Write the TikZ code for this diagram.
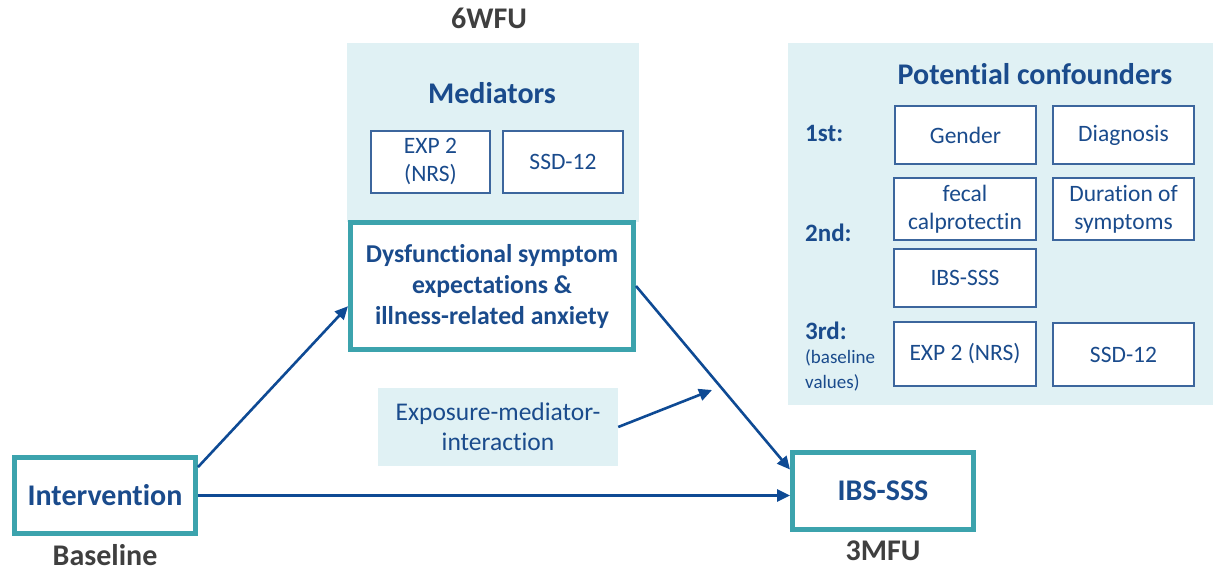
\documentclass[tikz,border=0pt]{standalone}
\usepackage{fontspec}
\setmainfont{Carlito}[Ligatures=NoCommon]
\usetikzlibrary{arrows.meta,positioning}
\definecolor{darkblue}{HTML}{1A4B8C}
\definecolor{arrowblue}{HTML}{0E4A94}
\definecolor{tealframe}{HTML}{3CA3AD}
\definecolor{panelfill}{HTML}{E0F1F4}
\definecolor{labelgray}{HTML}{3F3F3F}

\begin{document}
\begin{tikzpicture}[
    x=1pt, y=-1pt,
    panel/.style={fill=panelfill, inner sep=0pt},
    item/.style={draw=darkblue!85, line width=1.3pt, fill=white, align=center, text=darkblue,
                 inner sep=1pt, font=\fontsize{23.5}{28}\selectfont},
    keybox/.style={draw=tealframe, line width=5pt, fill=white, align=center, text=darkblue,
                 inner sep=0pt, font=\bfseries\fontsize{30}{36}\selectfont},
    heading/.style={text=darkblue, font=\bfseries\fontsize{30}{36}\selectfont},
    timept/.style={text=labelgray, inner sep=0pt, font=\bfseries\fontsize{30}{36}\selectfont},
    rank/.style={anchor=west, text=darkblue, inner sep=0pt, font=\bfseries\fontsize{25}{30}\selectfont},
    arrow/.style={-{Triangle[length=13pt,width=12pt]}, line width=2.6pt, color=arrowblue}
]
\useasboundingbox (0,0) rectangle (1214,573);

% mediator panel
\node[panel, minimum width=292pt, minimum height=179pt] (medpanel) at (493,132.5) {};
\node[heading] (medtitle) at (492,93) {Mediators};
\node[item, minimum width=119pt, minimum height=62pt] (medexp) at (430.5,162) {EXP 2\\(NRS)};
\node[item, minimum width=120pt, minimum height=62pt] (medssd) at (563,162) {SSD-12};
\node[keybox, minimum width=283pt, minimum height=127pt, font=\bfseries\fontsize{25.7}{31}\selectfont]
    (mediator) at (492,286) {Dysfunctional symptom\\expectations \&\\illness-related anxiety};
\node[timept] (sixwfu) at (489,18) {6WFU};

% confounder panel
\node[panel, minimum width=425pt, minimum height=362pt] (confpanel) at (1000.5,224) {};
\node[heading] (conftitle) at (1035,74) {Potential confounders};
\node[item, minimum width=141pt, minimum height=58pt] (gender) at (965.5,135) {Gender};
\node[item, minimum width=141pt, minimum height=58pt] (diagnosis) at (1123.5,135) {Diagnosis};
\node[item, minimum width=142pt, minimum height=62pt] (calpro) at (965,209) {fecal\\calprotectin};
\node[item, minimum width=141pt, minimum height=62pt] (duration) at (1123.5,209) {Duration of\\symptoms};
\node[item, minimum width=142pt, minimum height=58pt] (ibsbase) at (965,278) {IBS-SSS};
\node[item, minimum width=142pt, minimum height=64pt] (expbase) at (965,354) {EXP 2 (NRS)};
\node[item, minimum width=141pt, minimum height=63pt] (ssdbase) at (1123.5,354.5) {SSD-12};
\node[rank] (first) at (805,133) {1st:};
\node[rank] (second) at (805,233) {2nd:};
\node[rank] (third) at (805,331) {3rd:};
\node[rank, align=left, font=\fontsize{19}{25}\selectfont] (basevals) at (805,370) {(baseline\\values)};

% exposure and outcome
\node[keybox, minimum width=181pt, minimum height=76pt] (intervention) at (105,495.5) {Intervention};
\node[timept, below=8pt of intervention] (baseline) {Baseline};
\node[keybox, minimum width=181pt, minimum height=77pt] (outcome) at (883,491) {IBS-SSS};
\node[timept, below=9pt of outcome] (threemfu) {3MFU};
\node[panel, minimum width=240pt, minimum height=78pt, align=center, text=darkblue,
      font=\fontsize{25.5}{30}\selectfont] (interaction) at (498,427) {Exposure-mediator-\\interaction};
\coordinate (cross) at (712,390);

\draw[arrow] (intervention.17) -- (mediator.188);
\draw[arrow] (mediator.east) -- (outcome.167);
\draw[arrow] (intervention.east) -- (outcome.west |- intervention.east);
\draw[arrow] (interaction.east) -- (cross);
\end{tikzpicture}
\end{document}
